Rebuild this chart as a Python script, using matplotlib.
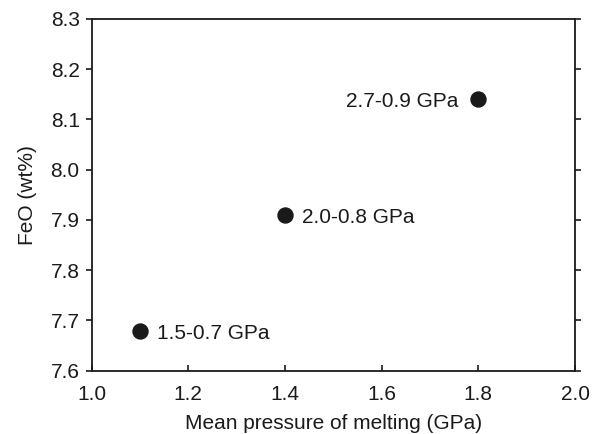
import matplotlib
matplotlib.use("Agg")
import matplotlib.pyplot as plt

plt.rcParams['font.family'] = ['Liberation Sans', 'DejaVu Sans']

pressure = [1.1, 1.4, 1.8]
feo = [7.68, 7.91, 8.14]
labels = ["1.5-0.7 GPa", "2.0-0.8 GPa", "2.7-0.9 GPa"]
label_side = ["right", "right", "left"]

FS = 15
INK = '#1a1a1a'

fig = plt.figure(figsize=(5.97, 4.34), dpi=100)
ax = fig.add_axes([91.5/597, 1 - 370.7/434, (575 - 91.5)/597, (370.7 - 19)/434])

ax.plot(pressure, feo, 'o', color=INK, markersize=10.8, linestyle='none')
for x, y, t, side in zip(pressure, feo, labels, label_side):
    dx = 12 if side == "right" else -14
    ax.annotate(t, (x, y), xytext=(dx, -5.8), textcoords='offset points',
                ha='left' if side == "right" else 'right', va='baseline',
                fontsize=FS, color=INK)

ax.set_xlim(1.0, 2.0)
ax.set_ylim(7.6, 8.3)
ax.set_xticks([1.0, 1.2, 1.4, 1.6, 1.8, 2.0])
ax.set_yticks([7.6, 7.7, 7.8, 7.9, 8.0, 8.1, 8.2, 8.3])
ax.set_xticklabels(["1.0", "1.2", "1.4", "1.6", "1.8", "2.0"])
ax.set_yticklabels(["7.6", "7.7", "7.8", "7.9", "8.0", "8.1", "8.2", "8.3"])
ax.tick_params(axis='x', direction='in', length=4, width=1.2, labelsize=FS, pad=10.5, colors=INK)
ax.tick_params(axis='y', direction='out', length=4, width=1.2, labelsize=FS, pad=4.5,
               right=True, colors=INK)
for s in ax.spines.values():
    s.set_linewidth(1.3)
    s.set_color(INK)
ax.set_xlabel("Mean pressure of melting (GPa)", fontsize=FS, labelpad=7, color=INK)
ax.set_ylabel("FeO (wt%)", fontsize=FS, labelpad=10, color=INK)

fig.savefig("out.png", dpi=100)
